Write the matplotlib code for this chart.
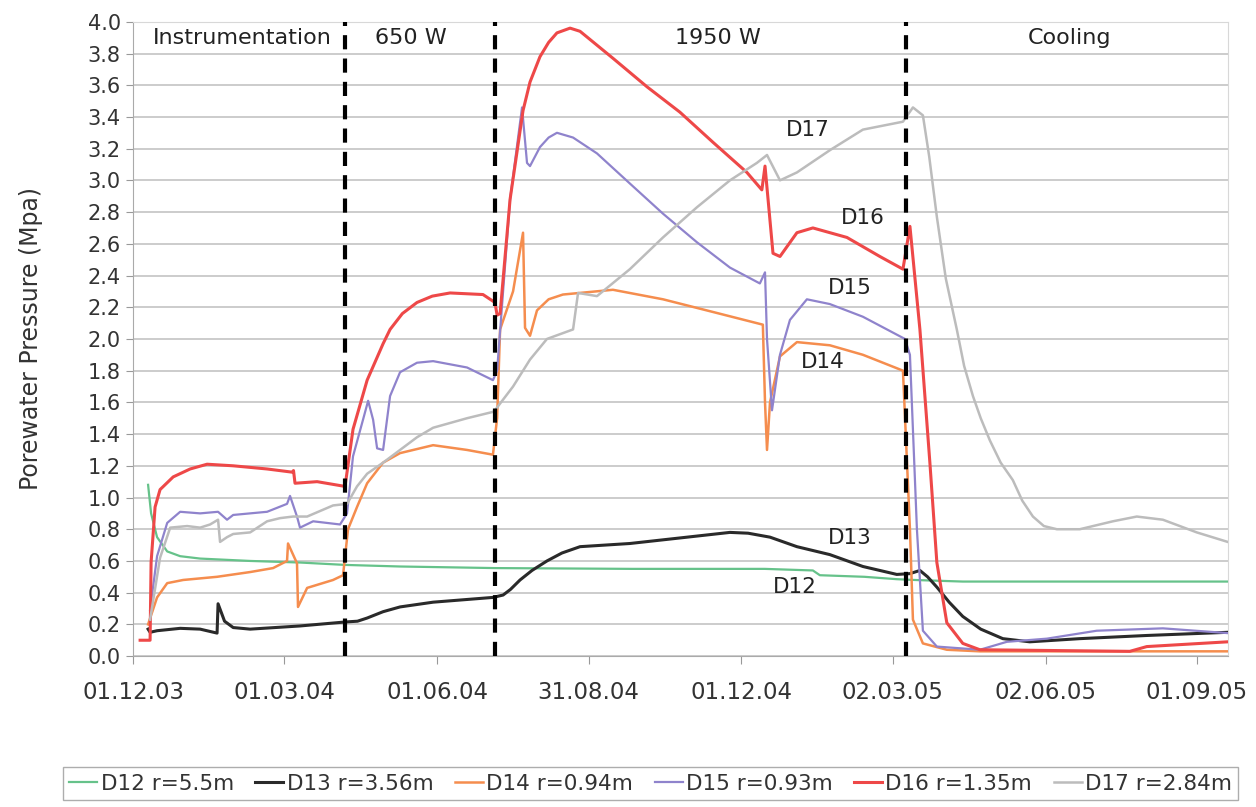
import matplotlib
matplotlib.use('Agg')
import matplotlib.pyplot as plt
import matplotlib.dates as mdates
import pandas as pd

start = pd.Timestamp('2003-12-01')

# x values: days since 01.12.03, y values: porewater pressure in MPa
d12_days = [9.0, 10.8, 14.4, 20.5, 28.3, 40.3, 70.4, 100.4, 127.5, 160.6, 217.7,
            300, 380, 409.0, 413.2, 440, 459.5, 470, 499.2, 658.6]
d12_vals = [1.08, 0.90, 0.75, 0.66, 0.63, 0.615, 0.60, 0.59, 0.575, 0.565, 0.555,
            0.55, 0.55, 0.54, 0.51, 0.50, 0.485, 0.48, 0.47, 0.47]

d13_days = [9.0, 10.2, 14.4, 28.3, 40.3, 50.5, 51.1, 55, 60.2, 70.4, 100.4, 127.5,
            135, 140.8, 150.4, 160.6, 180.5, 216.5, 222.6, 227, 232.8, 240, 249.0,
            258, 268.9, 298.9, 329.0, 359.1, 370, 383.2, 399.4, 419.2, 439.1, 459.5,
            467.4, 473.4, 478, 483.6, 491, 499.2, 510, 523.3, 539.5, 569.6, 609.9, 658.6]
d13_vals = [0.17, 0.15, 0.16, 0.175, 0.17, 0.145, 0.33, 0.22, 0.18, 0.17, 0.19, 0.215,
            0.22, 0.24, 0.28, 0.31, 0.34, 0.37, 0.385, 0.42, 0.48, 0.54, 0.60,
            0.65, 0.69, 0.71, 0.745, 0.78, 0.775, 0.75, 0.69, 0.64, 0.565, 0.515,
            0.52, 0.54, 0.5, 0.435, 0.34, 0.25, 0.17, 0.11, 0.09, 0.11, 0.13, 0.15]

d14_days = [9.0, 14.4, 20.5, 30.1, 50.5, 70.4, 84.2, 92.6, 93.2, 98.6, 99.2, 104.7,
            120.3, 126.3, 129.3, 134.7, 140.8, 150.4, 160.6, 180.5, 200.9, 216.5,
            219.0, 220.8, 228.6, 234.6, 235.8, 238.8, 243.0, 250, 258.6, 288.7, 318.8,
            348.9, 378.9, 380.2, 381.4, 383.2, 389.2, 399.4, 419.2, 439.1, 463.2,
            467.4, 469.2, 475.2, 489.6, 509.5, 658.6]
d14_vals = [0.20, 0.37, 0.46, 0.48, 0.50, 0.53, 0.555, 0.60, 0.71, 0.585, 0.31, 0.43,
            0.48, 0.51, 0.80, 0.94, 1.09, 1.22, 1.28, 1.33, 1.30, 1.27,
            1.50, 2.06, 2.30, 2.67, 2.07, 2.02, 2.18, 2.25, 2.28, 2.31, 2.25,
            2.17, 2.09, 1.60, 1.30, 1.60, 1.89, 1.98, 1.96, 1.90, 1.80,
            0.80, 0.23, 0.08, 0.04, 0.03, 0.03]

d15_days = [10.2, 14.4, 20.5, 28.3, 40.3, 51.1, 56.5, 60.2, 80.6, 92.6, 94.4, 98.6,
            100.4, 108.3, 124.5, 128.7, 132.3, 138.3, 141.4, 144.4, 146.8, 150.4,
            154.6, 160.6, 170.8, 180.5, 200.9, 216.5, 219.0, 222.6, 226.8, 234.0,
            237.0, 238.8, 244.8, 250, 255.0, 264.7, 279.1, 298.9, 318.8, 339.2, 359.1,
            377.1, 380.2, 381.4, 384.4, 389.2, 395.2, 405.4, 419.2, 439.1, 464.4,
            467.4, 471.6, 475.2, 483.6, 509.5, 525.7, 549.8, 579.8, 619.6, 658.6]
d15_vals = [0.29, 0.63, 0.84, 0.91, 0.90, 0.91, 0.86, 0.89, 0.91, 0.96, 1.01, 0.88,
            0.81, 0.85, 0.83, 0.90, 1.26, 1.49, 1.61, 1.49, 1.31, 1.30,
            1.64, 1.79, 1.85, 1.86, 1.82, 1.74, 1.80, 2.30, 2.88, 3.46,
            3.11, 3.09, 3.21, 3.27, 3.30, 3.27, 3.17, 2.98, 2.79, 2.61, 2.45,
            2.35, 2.42, 2.00, 1.55, 1.90, 2.12, 2.25, 2.22, 2.14, 2.00,
            1.90, 0.80, 0.16, 0.06, 0.04, 0.09, 0.11, 0.16, 0.175, 0.145]

d16_days = [4.2, 10.2, 10.8, 13.2, 16.2, 24.1, 34.3, 44.5, 60.2, 80.6, 95.6, 96.5,
            97.4, 110.7, 127.5, 132.3, 140.8, 150.4, 154.6, 162, 170.8, 180, 190.7,
            210.5, 217.7, 219.0, 220.8, 226.8, 234.6, 238.8, 244.8, 250, 255.0, 262.9,
            268.9, 288.7, 309.2, 329.0, 348.9, 369.3, 378.3, 380.2, 385.0, 389.2,
            399.4, 409.0, 429.5, 449.3, 463.2, 467.4, 473.4, 479.4, 483.6, 489.6,
            499.2, 509.5, 599.7, 609.9, 658.6]
d16_vals = [0.10, 0.10, 0.59, 0.94, 1.05, 1.13, 1.18, 1.21, 1.20, 1.18, 1.16, 1.17,
            1.09, 1.10, 1.07, 1.43, 1.74, 1.97, 2.06, 2.16, 2.23, 2.27, 2.29,
            2.28, 2.23, 2.15, 2.16, 2.88, 3.44, 3.62, 3.78, 3.87, 3.93, 3.96,
            3.94, 3.77, 3.59, 3.43, 3.24, 3.05, 2.94, 3.09, 2.54, 2.52,
            2.67, 2.70, 2.64, 2.52, 2.44, 2.71, 2.06, 1.22, 0.59, 0.21,
            0.08, 0.04, 0.03, 0.06, 0.09]

d17_days = [10.2, 16.2, 22.3, 32.5, 40.3, 46.3, 51.1, 52.3, 56.5, 60.2, 70.4, 80.6,
            88.4, 96.2, 104.7, 120.3, 128.7, 134.7, 140.8, 150.4, 160.6, 170.8,
            180.5, 200.9, 216.5, 217.7, 228.6, 238.8, 249.0, 264.7, 267.7, 279.1,
            298.9, 318.8, 339.2, 359.1, 375.3, 381.4, 389.2, 399.4, 419.2, 439.1,
            463.2, 469.2, 475.2, 479, 483.6, 489, 495.6, 500, 505.3, 510, 515.5, 522,
            529.3, 535, 541.4, 548, 555.8, 569.6, 589.5, 603.9, 619.6, 640.0, 658.6]
d17_vals = [0.23, 0.62, 0.81, 0.82, 0.81, 0.83, 0.86, 0.72, 0.75, 0.77, 0.78, 0.85,
            0.87, 0.88, 0.88, 0.95, 0.96, 1.07, 1.15, 1.22, 1.30, 1.38,
            1.44, 1.50, 1.54, 1.55, 1.70, 1.87, 2.00, 2.06, 2.29, 2.27,
            2.44, 2.64, 2.83, 3.00, 3.11, 3.16, 3.00, 3.05, 3.19, 3.32,
            3.37, 3.46, 3.41, 3.15, 2.77, 2.38, 2.06, 1.83, 1.64, 1.50, 1.36, 1.22,
            1.11, 0.98, 0.88, 0.82, 0.80, 0.80, 0.85, 0.88, 0.86, 0.78, 0.72]

series_names = ['D12 r=5.5m', 'D13 r=3.56m', 'D14 r=0.94m',
                'D15 r=0.93m', 'D16 r=1.35m', 'D17 r=2.84m']
series_colors = ['#66c28a', '#2a2a2a', '#f58d4e', '#8f83cc', '#ee4848', '#bcbcbc']
series_widths = [1.6, 2.2, 1.8, 1.6, 2.2, 1.8]

# phase boundaries (days) and phase captions
phase_days = [127.5, 217.7, 465.0]
phase_labels = ['Instrumentation', '650 W', '1950 W', 'Cooling']
phase_label_days = [65.8, 167, 352, 563.6]

# sensor labels next to the curves
tag_labels = ['D17', 'D16', 'D15', 'D14', 'D13', 'D12']
tag_days = [406, 439, 431, 415, 431, 398]
tag_vals = [3.32, 2.76, 2.32, 1.855, 0.745, 0.435]

tick_dates = ['2003-12-01', '2004-03-01', '2004-06-01', '2004-08-31',
              '2004-12-01', '2005-03-02', '2005-06-02', '2005-09-01']


def to_dates(days):
    return start + pd.to_timedelta(days, unit='D')


fig = plt.figure(figsize=(12.56, 8.07), dpi=100)
ax = fig.add_axes([0.106, 0.187, 0.872, 0.786])

all_series = [(d12_days, d12_vals), (d13_days, d13_vals), (d14_days, d14_vals),
              (d15_days, d15_vals), (d16_days, d16_vals), (d17_days, d17_vals)]
for (dd, vv), name, col, lw in zip(all_series, series_names, series_colors, series_widths):
    ax.plot(to_dates(dd), vv, color=col, lw=lw, label=name, zorder=3)

for d in phase_days:
    ax.axvline(to_dates([d])[0], color='black', lw=3, linestyle=(0, (3.4, 2.2)), zorder=5)

for lab, d in zip(phase_labels, phase_label_days):
    ax.text(to_dates([d])[0], 3.9, lab, ha='center', va='center', fontsize=16, color='#222222')

for lab, d, v in zip(tag_labels, tag_days, tag_vals):
    ax.text(to_dates([d])[0], v, lab, ha='center', va='center', fontsize=15.5, color='#222222')

ax.set_xlim(start, to_dates([659])[0])
ax.set_ylim(0, 4.0)
ax.set_yticks([i * 0.2 for i in range(21)])
ax.yaxis.set_major_formatter(matplotlib.ticker.FormatStrFormatter('%.1f'))
ax.set_xticks(pd.to_datetime(tick_dates))
ax.xaxis.set_major_formatter(mdates.DateFormatter('%d.%m.%y'))
ax.tick_params(axis='x', labelsize=16.5, colors='#999999', labelcolor='#333333',
               length=6, pad=12)
ax.tick_params(axis='y', labelsize=15, colors='#999999', labelcolor='#333333',
               length=5, pad=4)
ax.set_ylabel('Porewater Pressure (Mpa)', fontsize=17, color='#333333', labelpad=32)

ax.grid(axis='y', color='#c4c4c4', lw=1.2)
ax.set_axisbelow(True)
for side in ['left', 'bottom']:
    ax.spines[side].set_color('#aaaaaa')
for side in ['top', 'right']:
    ax.spines[side].set_color('#d8d8d8')

fig.legend(loc='center', bbox_to_anchor=(0.518, 0.029), ncol=6, fontsize=15.5,
           frameon=True, fancybox=False, edgecolor='#999999', handlelength=1.3,
           handletextpad=0.15, columnspacing=1.0, borderpad=0.3,
           labelcolor='#333333')

fig.savefig('out.png', dpi=100)
